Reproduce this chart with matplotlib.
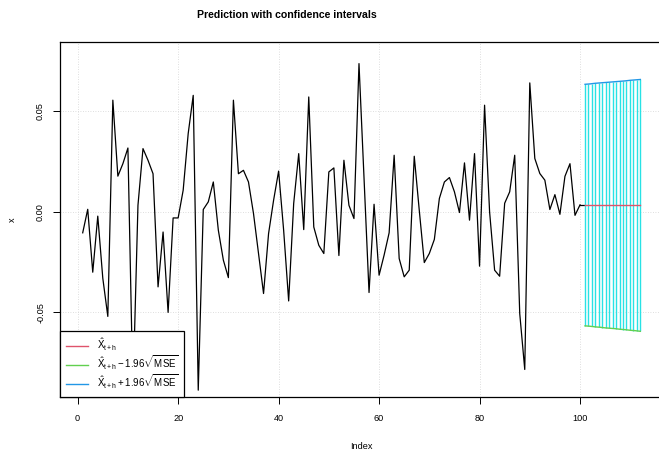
import numpy as np
import matplotlib.pyplot as plt

# observed series (index 1..100)
x_obs = [-0.0104, 0.0013, -0.0300, -0.0021, -0.0330, -0.0520, 0.0556, 0.0178, 0.0240, 0.0318,
         -0.0900, 0.0033, 0.0315, 0.0257, 0.0190, -0.0373, -0.0100, -0.0500, -0.0030, -0.0030,
         0.0108, 0.0390, 0.0580, -0.0887, 0.0012, 0.0050, 0.0149, -0.0091, -0.0240, -0.0327,
         0.0556, 0.0190, 0.0207, 0.0149, -0.0008, -0.0207, -0.0406, -0.0108, 0.0058, 0.0203,
         -0.0091, -0.0443, 0.0042, 0.0290, -0.0088, 0.0572, -0.0075, -0.0166, -0.0207, 0.0199,
         0.0219, -0.0217, 0.0257, 0.0033, -0.0033, 0.0738, 0.0170, -0.0401, 0.0038, -0.0315,
         -0.0215, -0.0104, 0.0282, -0.0232, -0.0323, -0.0290, 0.0277, 0.0008, -0.0252, -0.0207,
         -0.0137, 0.0067, 0.0149, 0.0171, 0.0100, -0.0003, 0.0244, -0.0041, 0.0290, -0.0270,
         0.0531, 0.0000, -0.0290, -0.0320, 0.0043, 0.0100, 0.0282, -0.0506, -0.0784, 0.0642,
         0.0266, 0.0191, 0.0158, 0.0012, 0.0086, -0.0012, 0.0177, 0.0240, -0.0017, 0.0035]

# forecasts h = 1..12 (index 101..112)
pred = [0.0035] * 12
upper = [0.0635, 0.0637, 0.0640, 0.0642, 0.0644, 0.0646, 0.0648, 0.0650, 0.0652, 0.0655, 0.0657, 0.0659]
lower = [-0.0567, -0.0569, -0.0572, -0.0574, -0.0577, -0.0579, -0.0581, -0.0584, -0.0586, -0.0589, -0.0591, -0.0594]

xticks = [0, 20, 40, 60, 80, 100]
yticks = [-0.05, 0.00, 0.05]
ytick_labels = ['-0.05', '0.00', '0.05']

plt.rcParams['font.family'] = ['Liberation Sans', 'DejaVu Sans']
plt.rcParams['mathtext.fontset'] = 'custom'
plt.rcParams['mathtext.rm'] = 'Liberation Sans'
plt.rcParams['mathtext.it'] = 'Liberation Sans'
plt.rcParams['mathtext.bf'] = 'Liberation Sans:bold'

n = len(x_obs)
idx = np.arange(1, n + 1)
idx_pred = np.arange(n + 1, n + len(pred) + 1)

fig = plt.figure(figsize=(6.59, 4.5), dpi=100)
ax = fig.add_axes([60.4 / 659, 1 - 397 / 450, (662.6 - 60.4) / 659, (397 - 41.7) / 450])

# grid
for t in xticks:
    ax.axvline(t, color='#d3d3d3', lw=0.6, ls=(0, (1, 2)), zorder=0)
for t in yticks:
    ax.axhline(t, color='#d3d3d3', lw=0.6, ls=(0, (1, 2)), zorder=0)

# series
ax.plot(idx, x_obs, color='black', lw=0.9)
ax.plot([idx[-1], idx_pred[0]], [x_obs[-1], pred[0]], color='black', lw=0.9)

# interval shading with vertical lines
xs = np.linspace(idx_pred[0], idx_pred[-1], 17)
ax.vlines(xs, np.interp(xs, idx_pred, lower), np.interp(xs, idx_pred, upper),
          color='#28E2E5', lw=1.0, zorder=2)

ax.plot(idx_pred, pred, color='#DF536B', lw=1.0, zorder=3, label=r'$\hat{X}_{t+h}$')
ax.plot(idx_pred, lower, color='#61D04F', lw=1.0, zorder=3,
        label=r'$\hat{X}_{t+h} - 1.96\sqrt{MSE}$')
ax.plot(idx_pred, upper, color='#2297E6', lw=1.0, zorder=3,
        label=r'$\hat{X}_{t+h} + 1.96\sqrt{MSE}$')

ax.set_xlim(-3.44, 116.44)
ax.set_ylim(-0.0921, 0.0847)
ax.set_xticks(xticks)
ax.set_xticklabels([str(t) for t in xticks])
ax.set_yticks(yticks)
ax.set_yticklabels(ytick_labels, rotation=90, va='center')
ax.tick_params(axis='both', labelsize=6.6, length=5, width=0.7, direction='out')
ax.tick_params(axis='x', pad=7)
ax.tick_params(axis='y', pad=6)
for s in ax.spines.values():
    s.set_linewidth(0.9)
ax.spines['right'].set_visible(False)

ax.set_xlabel('Index', fontsize=6.6, labelpad=14)
ax.set_ylabel('x', fontsize=6.6, labelpad=14)
fig.text(287 / 659, 1 - 15 / 450, 'Prediction with confidence intervals',
         fontsize=7.6, fontweight='bold', ha='center', va='center')

leg = ax.legend(loc='lower left', bbox_to_anchor=(0, 0), borderaxespad=0, fontsize=7,
                frameon=True, fancybox=False, framealpha=1, edgecolor='black',
                handlelength=2.2, handletextpad=1.0, labelspacing=0.05, borderpad=0.6)
leg.get_frame().set_linewidth(0.9)

fig.savefig('out.png', dpi=100)
